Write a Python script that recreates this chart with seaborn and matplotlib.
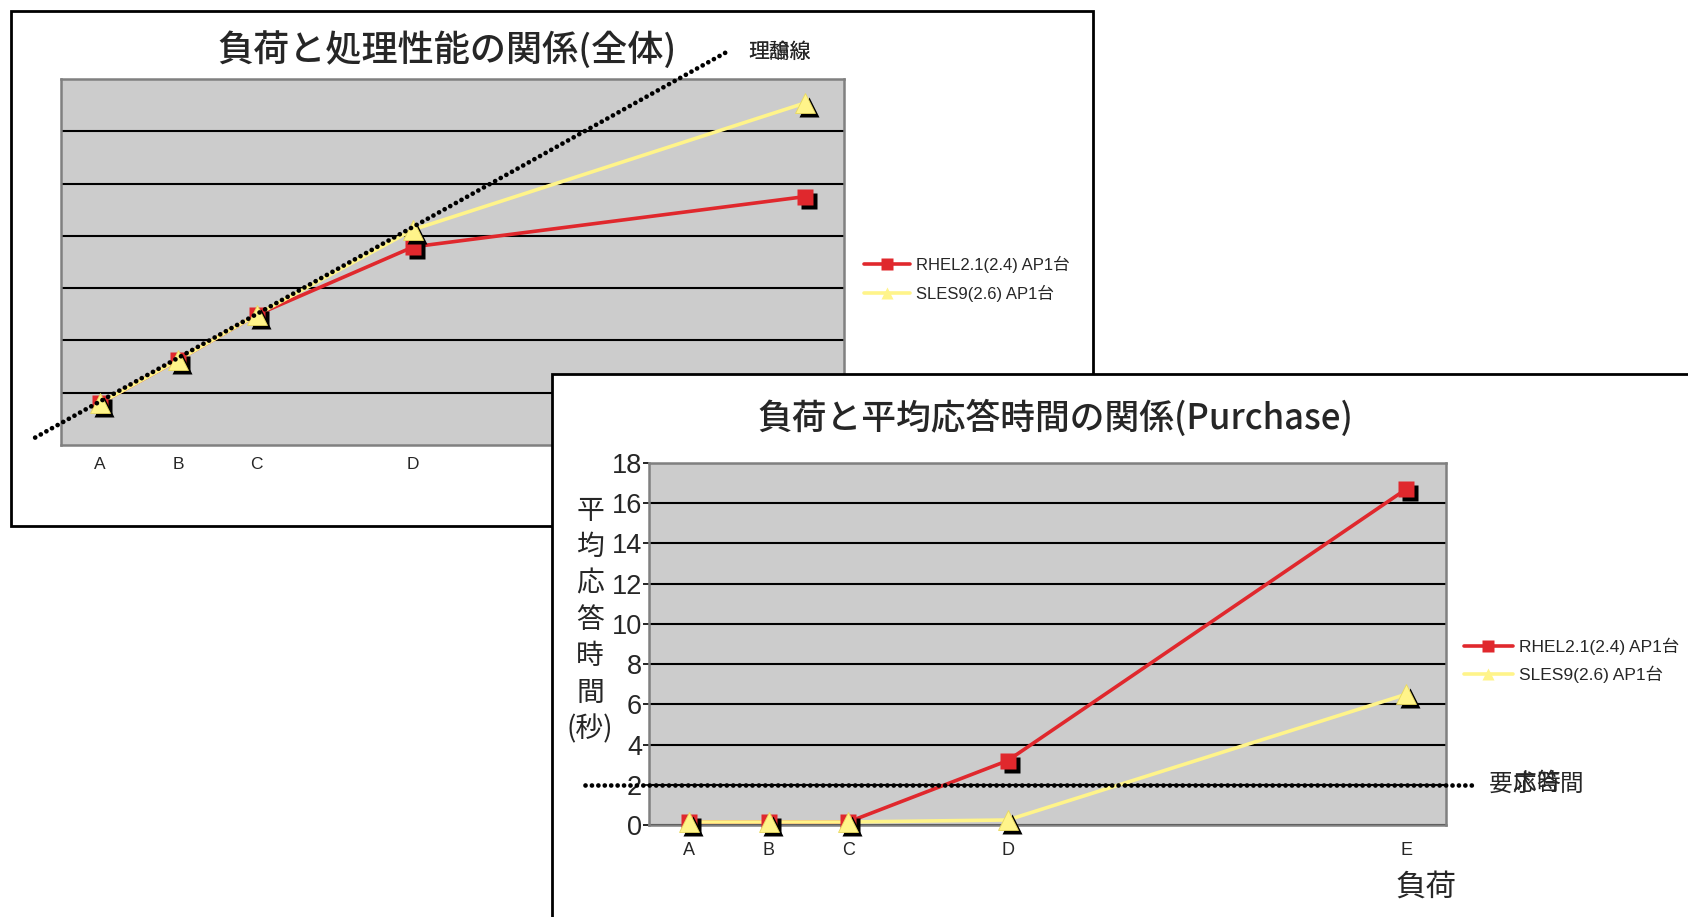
import numpy as np
import pandas as pd
import matplotlib
matplotlib.use("Agg")
import matplotlib.pyplot as plt
import matplotlib.transforms as mtransforms
from matplotlib.lines import Line2D
from matplotlib.patches import Rectangle
import seaborn as sns

sns.set_theme(style="white")
plt.rcParams["font.family"] = ["Liberation Sans", "Noto Sans CJK JP", "DejaVu Sans"]
CJK = ["Noto Sans CJK JP", "DejaVu Sans"]

# ---- data -------------------------------------------------------------
load_labels = ["A", "B", "C", "D", "E"]
load_x = [1, 2, 3, 5, 10]

# throughput (whole system)
thr_rhel = [0.80, 1.63, 2.49, 3.79, 4.75]
thr_sles = [0.80, 1.63, 2.49, 4.12, 6.54]
ideal_slope = 0.835
ideal_x = [0.17, 9.03]

# average response time (Purchase), seconds
rt_rhel = [0.15, 0.15, 0.15, 3.2, 16.7]
rt_sles = [0.15, 0.15, 0.15, 0.25, 6.5]
rt_required = 2.0
rt_required_x = [-0.30, 10.85]

series_names = ["RHEL2.1(2.4) AP1台", "SLES9(2.6) AP1台"]

# ---- styling ------------------------------------------------------------
W, H = 1688, 917
RED = "#e0282d"
YELLOW = "#fff48a"
PLOT_BG = "#cccccc"
SPINE = "#808080"
DOTS = dict(color="black", lw=3.4, ls=(0, (0.01, 1.35)), dash_capstyle="round",
            zorder=9, clip_on=False)

fig = plt.figure(figsize=(W / 100, H / 100), dpi=100)
fig.patch.set_facecolor("white")


def fx(px):
    return px / W


def fy(py):
    return 1 - py / H


def axes_at(left, top, right, bottom, z):
    ax = fig.add_axes([fx(left), fy(bottom), fx(right) - fx(left), fy(top) - fy(bottom)])
    ax.set_zorder(z)
    return ax


shadow = mtransforms.ScaledTranslation(0.04, -0.04, fig.dpi_scale_trans)


def draw_series(ax, yr, ys):
    df = pd.DataFrame({"x": load_x * 2, "y": yr + ys,
                       "series": [series_names[0]] * 5 + [series_names[1]] * 5})
    sns.lineplot(data=df, x="x", y="y", hue="series",
                 palette={series_names[0]: RED, series_names[1]: YELLOW},
                 linewidth=2.6, ax=ax, legend=False, sort=False, zorder=3)
    # drop shadows, then markers
    ax.plot(load_x, yr, ls="none", marker="s", ms=12, color="black", mec="none",
            transform=ax.transData + shadow, zorder=4, clip_on=False)
    ax.plot(load_x, yr, ls="none", marker="s", ms=12, color=RED, mec="none",
            zorder=5, clip_on=False)
    ax.plot(load_x, ys, ls="none", marker="^", ms=15, color="black", mec="none",
            transform=ax.transData + shadow, zorder=6, clip_on=False)
    ax.plot(load_x, ys, ls="none", marker="^", ms=15, color=YELLOW, mec="#e8d860",
            mew=0.6, zorder=7, clip_on=False)


def style_axes(ax):
    ax.set_facecolor(PLOT_BG)
    for s in ax.spines.values():
        s.set_color(SPINE)
        s.set_linewidth(1.8)
    ax.set_xlim(0.5, 10.5)
    ax.set_xticks(load_x)
    ax.set_xticklabels(load_labels)
    ax.set_xlabel("")
    ax.set_ylabel("")


def add_legend(ax, x_px, y_px, fontsize, hlen, tpad, lspace):
    handles = [
        Line2D([], [], color=RED, lw=2.6, marker="s", ms=8, mec="none"),
        Line2D([], [], color=YELLOW, lw=2.6, marker="^", ms=9, mec="none"),
    ]
    leg = ax.legend(handles, series_names, loc="center left",
                    bbox_to_anchor=(fx(x_px), fy(y_px)), bbox_transform=fig.transFigure,
                    frameon=False, fontsize=fontsize, handlelength=hlen,
                    handletextpad=tpad, labelspacing=lspace, borderpad=0,
                    borderaxespad=0)
    leg.set_zorder(20)
    return leg


# ---- chart 1: load vs throughput ----------------------------------------
fig.add_artist(Rectangle((fx(11), fy(526)), fx(1093) - fx(11), fy(11) - fy(526),
                         transform=fig.transFigure, facecolor="white",
                         edgecolor="black", linewidth=2, zorder=0))

ax1 = axes_at(61, 79, 844, 445, 1)
draw_series(ax1, thr_rhel, thr_sles)
style_axes(ax1)
ax1.set_ylim(0, 7)
ax1.set_yticks(range(1, 7))
ax1.set_yticklabels([])
ax1.tick_params(axis="y", length=0)
ax1.tick_params(axis="x", length=0, pad=9, labelsize=12.5)
ax1.grid(axis="y", color="black", linewidth=1.5)
ax1.grid(axis="x", visible=False)
ax1.plot(ideal_x, [ideal_slope * v for v in ideal_x], **DOTS)
add_legend(ax1, 864, 279, 12, 2.75, 0.4, 0.7)

fig.text(fx(447), fy(50), "負荷と処理性能の関係(全体)", ha="center", va="center",
         fontsize=26, weight="medium", family=CJK, zorder=2)
for s in ["理想線", "理論線"]:
    fig.text(fx(748), fy(52), s, ha="left", va="center", fontsize=15,
             family=CJK, zorder=2)

# ---- chart 2: load vs average response time ----------------------------
fig.add_artist(Rectangle((fx(552), fy(940)), fx(1720) - fx(552), fy(374) - fy(940),
                         transform=fig.transFigure, facecolor="white",
                         edgecolor="black", linewidth=2, zorder=3))

ax2 = axes_at(649, 463, 1446, 825, 4)
draw_series(ax2, rt_rhel, rt_sles)
style_axes(ax2)
ax2.set_ylim(0, 18)
ax2.set_yticks(range(0, 19, 2))
ax2.tick_params(axis="y", length=4, width=1.2, color="black", pad=1,
                labelsize=19.5, left=True)
ax2.tick_params(axis="x", length=0, pad=12, labelsize=13)
ax2.grid(axis="y", color="black", linewidth=1.5)
ax2.grid(axis="x", visible=False)
ax2.plot(rt_required_x, [rt_required] * 2, **DOTS)
add_legend(ax2, 1464, 660, 12.5, 2.8, 0.35, 0.6)

fig.text(fx(1055), fy(418), "負荷と平均応答時間の関係(Purchase)", ha="center",
         va="center", fontsize=25, weight="medium", family=CJK, zorder=5)
fig.text(fx(590), fy(620), "平\n均\n応\n答\n時\n間\n(秒)", ha="center", va="center",
         fontsize=20, linespacing=1.28, family=CJK, zorder=5)
fig.text(fx(1426), fy(887), "負荷", ha="center", va="center", fontsize=22,
         family=CJK, zorder=5)
# requirement label: the middle glyphs sit on top of each other
req_chars = ["要", "求", "応", "答", "時", "間"]
req_slots = [0, 1, 1, 2, 2, 3]
for ch, slot in zip(req_chars, req_slots):
    fig.text(fx(1489 + slot * 23.5), fy(784), ch, ha="left", va="center",
             fontsize=17, family=CJK, zorder=5)

fig.savefig("out.png", dpi=100, facecolor="white")
